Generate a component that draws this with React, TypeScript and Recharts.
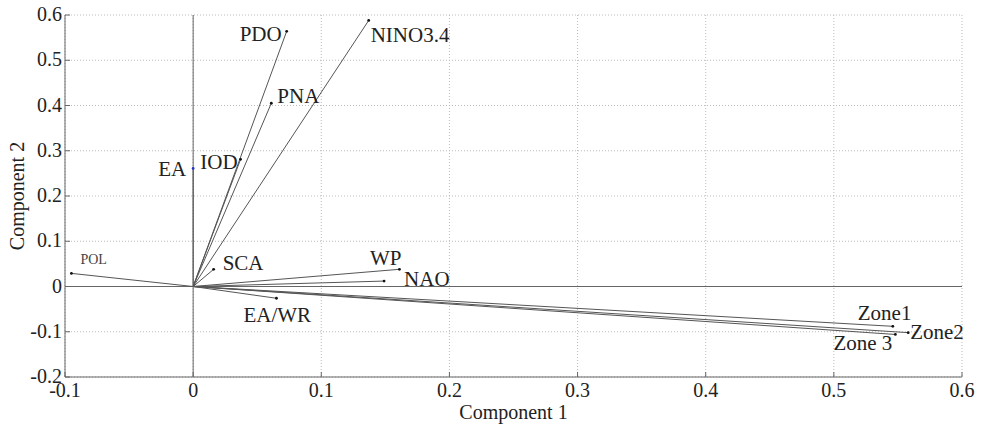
import { CartesianGrid, ReferenceLine, Scatter, ScatterChart, XAxis, YAxis } from "recharts";

// loadings (component 1, component 2)
const names = ["PDO", "NINO3.4", "PNA", "IOD", "EA", "SCA", "WP", "NAO", "EA/WR", "POL", "Zone1", "Zone2", "Zone 3"];
const comp1 = [0.073, 0.137, 0.061, 0.037, 0.0, 0.016, 0.161, 0.149, 0.065, -0.095, 0.546, 0.558, 0.548];
const comp2 = [0.564, 0.588, 0.405, 0.281, 0.261, 0.038, 0.038, 0.012, -0.026, 0.029, -0.088, -0.102, -0.106];

const xTicks = [-0.1, 0, 0.1, 0.2, 0.3, 0.4, 0.5, 0.6];
const yTicks = [-0.2, -0.1, 0, 0.1, 0.2, 0.3, 0.4, 0.5, 0.6];

// label placement relative to the arrow tip: [dx, dy, anchor]
const LABEL_POS: Record<string, [number, number, "start" | "end"]> = {
  PDO: [-5, 10, "end"],
  "NINO3.4": [2, 22, "start"],
  PNA: [6, 0, "start"],
  IOD: [-3, 10, "end"],
  EA: [-7, 8, "end"],
  SCA: [9, 1, "start"],
  WP: [2, -4, "end"],
  NAO: [20, 5, "start"],
  "EA/WR": [-33, 24, "start"],
  POL: [9, -9, "start"],
  Zone1: [-35, -6, "start"],
  Zone2: [2, 6, "start"],
  "Zone 3": [-3, 16, "end"],
};

const FONT = '"Liberation Serif", "Times New Roman", serif';
const AXIS_COLOR = "#666";
const fmt = (v: number) => String(Math.round(v * 10) / 10);

const vectors = names.map((name, i) => [
  { x: 0, y: 0, name, tip: false },
  { x: comp1[i], y: comp2[i], name, tip: true },
]);

const XTick = ({ x, y, payload }: any) => (
  <g>
    <line x1={x} x2={x} y1={y} y2={y - 5} stroke={AXIS_COLOR} />
    <text x={x} y={y + 20} textAnchor="middle" style={{ fontFamily: FONT, fontSize: 20 }} fill="#222">
      {fmt(payload.value)}
    </text>
  </g>
);

const YTick = ({ x, y, payload }: any) => (
  <g>
    <line x1={x} x2={x + 5} y1={y} y2={y} stroke={AXIS_COLOR} />
    <text x={x - 3} y={y + 6} textAnchor="end" style={{ fontFamily: FONT, fontSize: 20 }} fill="#222">
      {fmt(payload.value)}
    </text>
  </g>
);

const Tip = ({ cx, cy, payload }: any) => {
  if (!payload.tip) return <g />;
  const [dx, dy, anchor] = LABEL_POS[payload.name];
  const small = payload.name === "POL";
  return (
    <g>
      <circle cx={cx} cy={cy} r={1.4} fill={payload.name === "EA" ? "#2233cc" : "#111"} />
      <text
        x={cx + dx}
        y={cy + dy}
        textAnchor={anchor}
        style={{ fontFamily: FONT, fontSize: small ? 14 : 21 }}
        fill={small ? "#444" : "#222"}
      >
        {payload.name}
      </text>
    </g>
  );
};

export default function App() {
  return (
    <div style={{ position: "absolute", left: 0, top: 0, background: "#fff", fontFamily: FONT }}>
      <ScatterChart width={984} height={427} margin={{ top: 15, right: 22, bottom: 10, left: 5 }}>
        <CartesianGrid stroke="#bbb" strokeDasharray="1 2" />
        <XAxis
          type="number"
          dataKey="x"
          domain={[-0.1, 0.6]}
          ticks={xTicks}
          tickSize={0}
          tickMargin={0}
          tick={<XTick />}
          stroke={AXIS_COLOR}
          height={40}
          label={{ value: "Component 1", position: "insideBottom", offset: -2, style: { fontFamily: FONT, fontSize: 20 }, fill: "#222" }}
        />
        <YAxis
          type="number"
          dataKey="y"
          domain={[-0.2, 0.6]}
          ticks={yTicks}
          tickSize={0}
          tickMargin={0}
          tick={<YTick />}
          stroke={AXIS_COLOR}
          width={60}
          label={{ value: "Component 2", angle: -90, position: "insideLeft", offset: 12, style: { textAnchor: "middle", fontFamily: FONT, fontSize: 20 }, fill: "#222" }}
        />
        <ReferenceLine x={0} stroke={AXIS_COLOR} />
        <ReferenceLine y={0} stroke={AXIS_COLOR} />
        {vectors.map((d, i) => (
          <Scatter
            key={names[i]}
            data={d}
            line={{ stroke: "#555", strokeWidth: 1 }}
            shape={<Tip />}
            isAnimationActive={false}
          />
        ))}
      </ScatterChart>
    </div>
  );
}
